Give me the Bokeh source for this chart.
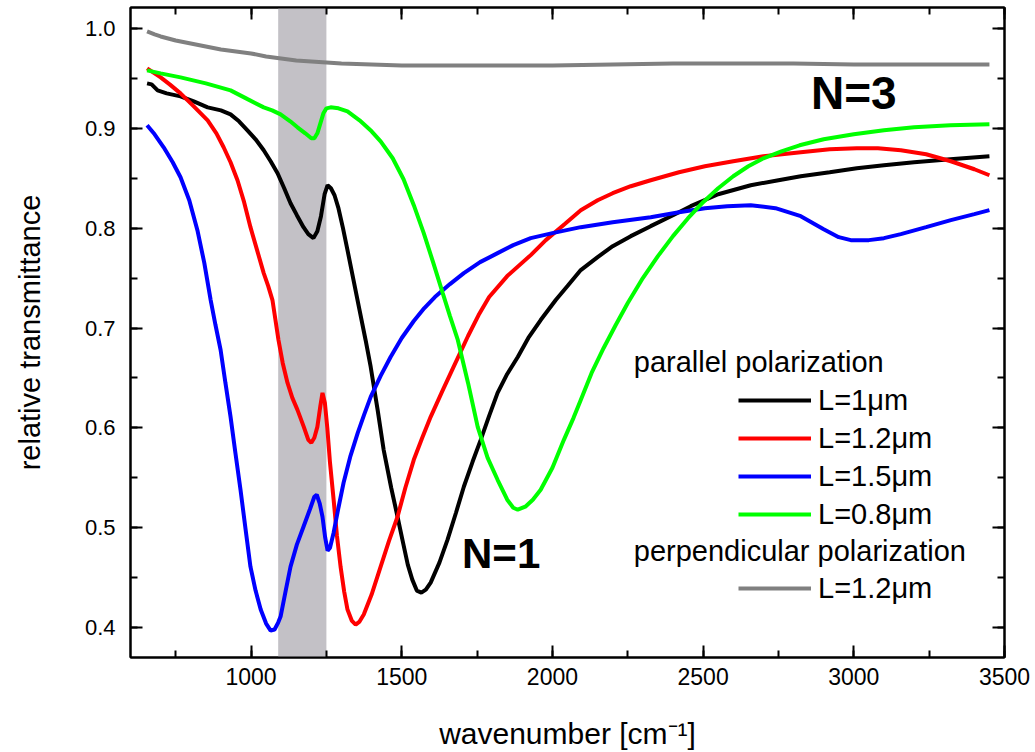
from bokeh.plotting import figure
from bokeh.models import (Range1d, LinearAxis, SingleIntervalTicker, BoxAnnotation,
                          Legend, LegendItem, Label, CustomJSTickFormatter, PrintfTickFormatter)
from bokeh.embed import file_html
from bokeh.resources import INLINE

# ---------------- data ----------------
x_black = [655, 670, 690, 720, 766, 810, 856, 900, 932, 960, 988, 1015, 1042, 1065, 1088, 1110,
           1131, 1152, 1174, 1190, 1207, 1220, 1232, 1244, 1254, 1265, 1277, 1290, 1305, 1320,
           1340, 1360, 1380, 1397, 1420, 1440, 1465, 1486, 1505, 1520, 1535, 1550, 1565, 1580,
           1596, 1625, 1652, 1680, 1706, 1735, 1762, 1790, 1818, 1850, 1885, 1920, 1961, 2011,
           2050, 2094, 2150, 2200, 2260, 2326, 2400, 2459, 2550, 2658, 2750, 2824, 2920, 3010,
           3100, 3200, 3320, 3450]
y_black = [0.945, 0.944, 0.938, 0.935, 0.932, 0.927, 0.921, 0.918, 0.914, 0.907, 0.898, 0.889,
           0.878, 0.867, 0.855, 0.840, 0.825, 0.813, 0.801, 0.794, 0.790, 0.797, 0.812, 0.834,
           0.843, 0.840, 0.833, 0.820, 0.800, 0.778, 0.748, 0.718, 0.688, 0.661, 0.618, 0.578,
           0.540, 0.511, 0.484, 0.463, 0.448, 0.437, 0.435, 0.438, 0.445, 0.465, 0.488, 0.515,
           0.541, 0.566, 0.588, 0.612, 0.635, 0.654, 0.671, 0.690, 0.708, 0.728, 0.742, 0.758,
           0.771, 0.782, 0.792, 0.802, 0.813, 0.822, 0.834, 0.843, 0.848, 0.852, 0.856, 0.860,
           0.863, 0.866, 0.869, 0.872]

x_red = [655, 700, 730, 766, 810, 856, 885, 909, 932, 955, 977, 998, 1020, 1042, 1057, 1071,
         1081, 1091, 1105, 1121, 1137, 1154, 1175, 1190, 1200, 1210, 1220, 1230, 1237, 1245,
         1253, 1262, 1274, 1285, 1297, 1309, 1320, 1334, 1347, 1360, 1374, 1400, 1430, 1458,
         1486, 1512, 1540, 1568, 1596, 1635, 1672, 1720, 1755, 1790, 1850, 1928, 1978, 2040,
         2094, 2150, 2200, 2260, 2326, 2420, 2506, 2600, 2700, 2824, 2920, 3010, 3080, 3156,
         3240, 3322, 3400, 3450]
y_red = [0.960, 0.951, 0.944, 0.935, 0.922, 0.908, 0.895, 0.881, 0.866, 0.848, 0.826, 0.801,
         0.778, 0.755, 0.742, 0.728, 0.708, 0.688, 0.665, 0.645, 0.630, 0.618, 0.601, 0.588,
         0.585, 0.590, 0.601, 0.622, 0.635, 0.625, 0.600, 0.565, 0.528, 0.492, 0.461, 0.436,
         0.418, 0.407, 0.403, 0.406, 0.413, 0.433, 0.461, 0.487, 0.511, 0.540, 0.568, 0.590,
         0.611, 0.637, 0.661, 0.692, 0.713, 0.731, 0.752, 0.773, 0.788, 0.804, 0.818, 0.828,
         0.835, 0.842, 0.848, 0.856, 0.862, 0.867, 0.872, 0.876, 0.879, 0.880, 0.880, 0.878,
         0.874, 0.867, 0.859, 0.853]

x_blue = [655, 680, 710, 740, 766, 795, 822, 845, 866, 882, 899, 915, 932, 948, 965, 982, 998,
          1015, 1032, 1050, 1065, 1078, 1090, 1098, 1115, 1131, 1152, 1174, 1196, 1210, 1218,
          1228, 1237, 1246, 1254, 1262, 1274, 1290, 1307, 1330, 1354, 1375, 1397, 1430, 1463,
          1500, 1540, 1575, 1610, 1660, 1706, 1760, 1818, 1870, 1928, 2000, 2094, 2200, 2326,
          2420, 2506, 2580, 2658, 2740, 2824, 2900, 2950, 2990, 3050, 3100, 3156, 3240, 3322,
          3400, 3450]
y_blue = [0.903, 0.894, 0.881, 0.866, 0.851, 0.828, 0.798, 0.765, 0.728, 0.703, 0.678, 0.645,
          0.611, 0.575, 0.538, 0.498, 0.461, 0.437, 0.418, 0.404, 0.397, 0.398, 0.405, 0.411,
          0.437, 0.461, 0.483, 0.501, 0.519, 0.531, 0.533, 0.524, 0.511, 0.490, 0.477, 0.480,
          0.495, 0.520, 0.545, 0.572, 0.595, 0.613, 0.631, 0.652, 0.671, 0.690, 0.707, 0.720,
          0.731, 0.744, 0.755, 0.766, 0.775, 0.783, 0.790, 0.795, 0.801, 0.806, 0.811, 0.816,
          0.820, 0.822, 0.823, 0.820, 0.812, 0.799, 0.791, 0.788, 0.788, 0.790, 0.794, 0.801,
          0.808, 0.814, 0.818]

x_green = [655, 700, 766, 850, 932, 990, 1042, 1070, 1098, 1130, 1154, 1180, 1200, 1210, 1220,
           1230, 1240, 1250, 1264, 1290, 1320, 1360, 1400, 1430, 1470, 1506, 1540, 1573, 1605,
           1636, 1660, 1686, 1720, 1752, 1785, 1818, 1850, 1870, 1885, 1910, 1935, 1961, 2000,
           2038, 2070, 2094, 2130, 2170, 2210, 2250, 2300, 2350, 2400, 2450, 2500, 2550, 2600,
           2650, 2700, 2760, 2820, 2900, 3000, 3100, 3200, 3320, 3450]
y_green = [0.958, 0.955, 0.951, 0.945, 0.938, 0.929, 0.921, 0.918, 0.914, 0.907, 0.901, 0.895,
           0.890, 0.890, 0.895, 0.905, 0.915, 0.920, 0.921, 0.920, 0.917, 0.908, 0.897, 0.887,
           0.870, 0.849, 0.823, 0.795, 0.765, 0.735, 0.712, 0.688, 0.645, 0.601, 0.570, 0.548,
           0.528, 0.520, 0.518, 0.521, 0.528, 0.538, 0.560, 0.588, 0.610, 0.628, 0.655, 0.680,
           0.703, 0.725, 0.750, 0.772, 0.792, 0.810, 0.826, 0.840, 0.852, 0.862, 0.870, 0.877,
           0.883, 0.889, 0.894, 0.898, 0.901, 0.903, 0.904]

x_gray = [655, 680, 700, 750, 800, 850, 900, 950, 1000, 1050, 1100, 1150, 1200, 1250, 1300,
          1400, 1500, 1600, 1800, 2000, 2200, 2400, 2600, 2800, 3000, 3200, 3450]
y_gray = [0.997, 0.994, 0.992, 0.988, 0.985, 0.982, 0.979, 0.977, 0.975, 0.972, 0.970, 0.968,
          0.967, 0.966, 0.965, 0.964, 0.963, 0.963, 0.963, 0.963, 0.964, 0.965, 0.965, 0.965,
          0.964, 0.964, 0.964]

band_left, band_right = 1090, 1250

labels_parallel = ["L=1μm", "L=1.2μm", "L=1.5μm", "L=0.8μm"]
label_perp = "L=1.2μm"
header_parallel = "parallel polarization"
header_perp = "perpendicular polarization"

FONT = "Liberation Sans"

p = figure(width=1035, height=752, output_backend="svg", toolbar_location=None,
           x_range=Range1d(600, 3500), y_range=Range1d(0.37, 1.021),
           min_border_left=130, min_border_right=31, min_border_top=7, min_border_bottom=94,
           background_fill_color="white", border_fill_color="white")
p.xgrid.visible = False
p.ygrid.visible = False
p.outline_line_color = "black"
p.outline_line_width = 2

xb = p.below[0]
yl = p.left[0]
xb.ticker = SingleIntervalTicker(interval=500, num_minor_ticks=2)
yl.ticker = SingleIntervalTicker(interval=0.1, num_minor_ticks=2)
yl.formatter = PrintfTickFormatter(format="%.1f")

blank = CustomJSTickFormatter(code="return ''")
xt = LinearAxis(ticker=SingleIntervalTicker(interval=500, num_minor_ticks=2),
                formatter=blank, major_label_text_font_size="1px", major_label_standoff=0)
yr = LinearAxis(ticker=SingleIntervalTicker(interval=0.1, num_minor_ticks=2),
                formatter=blank, major_label_text_font_size="1px", major_label_standoff=0)
p.add_layout(xt, "above")
p.add_layout(yr, "right")

for ax in (xb, yl, xt, yr):
    ax.axis_line_color = "black"
    ax.axis_line_width = 2
    ax.major_tick_line_color = "black"
    ax.minor_tick_line_color = "black"
    ax.major_tick_line_width = 2
    ax.minor_tick_line_width = 2
    ax.major_tick_in = 12
    ax.major_tick_out = 0
    ax.minor_tick_in = 7
    ax.minor_tick_out = 0
    ax.major_label_text_color = "black"
    ax.major_label_text_font = FONT

xb.major_label_text_font_size = "23px"
xb.major_label_standoff = 10
xb.axis_label = "wavenumber [cm⁻¹]"
xb.axis_label_text_font = FONT
xb.axis_label_text_font_size = "30px"
xb.axis_label_text_font_style = "normal"
xb.axis_label_text_color = "black"
xb.axis_label_standoff = 29

yl.major_label_text_font_size = "22px"
yl.major_label_standoff = 15
yl.axis_label = "relative transmittance"
yl.axis_label_text_font = FONT
yl.axis_label_text_font_size = "29px"
yl.axis_label_text_font_style = "normal"
yl.axis_label_text_color = "black"
yl.axis_label_standoff = 36

p.add_layout(BoxAnnotation(left=band_left, right=band_right, fill_color="#c3c1c6",
                           fill_alpha=1.0, line_color=None, level="underlay"))

LW = 4
r_gray = p.line(x_gray, y_gray, line_color="#808080", line_width=LW)
r_black = p.line(x_black, y_black, line_color="black", line_width=LW)
r_red = p.line(x_red, y_red, line_color="#ff0000", line_width=LW)
r_blue = p.line(x_blue, y_blue, line_color="#0000ff", line_width=LW)
r_green = p.line(x_green, y_green, line_color="#00ff00", line_width=LW)

leg_kw = dict(border_line_color=None, background_fill_alpha=0, padding=0, margin=0,
              spacing=2, glyph_width=73, glyph_height=36, label_height=36, label_standoff=7,
              label_text_font=FONT, label_text_font_size="29px", label_text_color="black")
leg1 = Legend(items=[LegendItem(label=labels_parallel[0], renderers=[r_black]),
                     LegendItem(label=labels_parallel[1], renderers=[r_red]),
                     LegendItem(label=labels_parallel[2], renderers=[r_blue]),
                     LegendItem(label=labels_parallel[3], renderers=[r_green])],
              location=(608, 125), **leg_kw)
leg2 = Legend(items=[LegendItem(label=label_perp, renderers=[r_gray])],
              location=(608, 51), **leg_kw)
p.add_layout(leg1, "center")
p.add_layout(leg2, "center")

p.add_layout(Label(x=2270, y=0.666, text=header_parallel, text_font=FONT,
                   text_font_size="29px", text_baseline="alphabetic", text_color="black"))
p.add_layout(Label(x=2270, y=0.477, text=header_perp, text_font=FONT,
                   text_font_size="29px", text_baseline="alphabetic", text_color="black"))
p.add_layout(Label(x=1700, y=0.474, text="N=1", text_font=FONT, text_font_size="42px",
                   text_font_style="bold", text_baseline="alphabetic", text_color="black"))
p.add_layout(Label(x=2858, y=0.935, text="N=3", text_font=FONT, text_font_size="46px",
                   text_font_style="bold", text_baseline="alphabetic", text_color="black"))

open("out.html", "w").write(file_html(p, INLINE))
